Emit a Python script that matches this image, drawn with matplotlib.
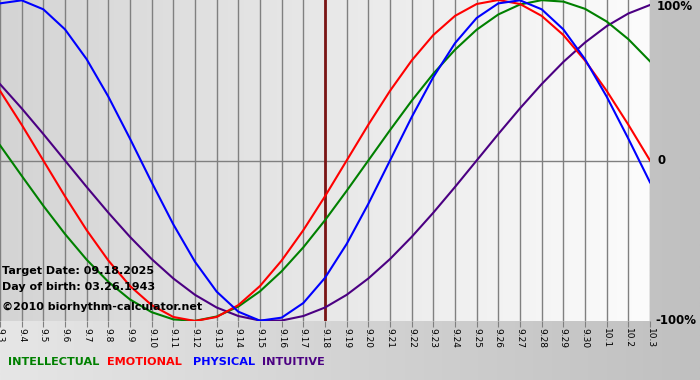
import numpy as np
import matplotlib
matplotlib.use("Agg")
import matplotlib.pyplot as plt
from matplotlib.colors import LinearSegmentedColormap

# day labels 9.3 .. 10.3
days = ['9.3', '9.4', '9.5', '9.6', '9.7', '9.8', '9.9', '9.10', '9.11', '9.12',
        '9.13', '9.14', '9.15', '9.16', '9.17', '9.18', '9.19', '9.20', '9.21',
        '9.22', '9.23', '9.24', '9.25', '9.26', '9.27', '9.28', '9.29', '9.30',
        '10.1', '10.2', '10.3']
target_idx = 15

# values in percent, read per day
physical = [97.9, 99.8, 94.2, 81.7, 63.1, 39.8, 13.6, -13.6, -39.8, -63.1, -81.7,
            -94.2, -99.8, -97.9, -88.8, -73.1, -52.0, -27.0, 0.0, 27.0, 52.0, 73.1,
            88.8, 97.9, 99.8, 94.2, 81.7, 63.1, 39.8, 13.6, -13.6]
emotional = [43.4, 22.3, 0.0, -22.3, -43.4, -62.3, -78.2, -90.1, -97.5, -100.0,
             -97.5, -90.1, -78.2, -62.3, -43.4, -22.3, 0.0, 22.3, 43.4, 62.3, 78.2,
             90.1, 97.5, 100.0, 97.5, 90.1, 78.2, 62.3, 43.4, 22.3, 0.0]
intellectual = [9.5, -9.5, -28.2, -45.8, -61.8, -75.6, -86.6, -94.5, -99.0, -99.9,
                -97.2, -91.0, -81.5, -69.0, -54.1, -37.2, -18.9, 0.0, 18.9, 37.2,
                54.1, 69.0, 81.5, 91.0, 97.2, 99.9, 99.0, 94.5, 86.6, 75.6, 61.8]
intuitive = [47.6, 32.5, 16.5, 0.0, -16.5, -32.5, -47.6, -61.4, -73.5, -83.7, -91.6,
             -96.9, -99.7, -99.7, -96.9, -91.6, -83.7, -73.5, -61.4, -47.6, -32.5,
             -16.5, 0.0, 16.5, 32.5, 47.6, 61.4, 73.5, 83.7, 91.6, 96.9]

c_int = '#008000'
c_emo = '#ff0000'
c_phy = '#0000ff'
c_itu = '#4b0082'

x = np.arange(len(days))

fig = plt.figure(figsize=(7, 3.8), dpi=100)

# outer background gradient
bg = fig.add_axes([0, 0, 1, 1], zorder=-10)
bg.imshow(np.linspace(0, 1, 256).reshape(1, -1), aspect='auto', extent=[0, 1, 0, 1],
          cmap=LinearSegmentedColormap.from_list('o', ['#e6e6e6', '#c0c0c0']))
bg.set_axis_off()

ax = fig.add_axes([0, 1 - 321 / 380, 650 / 700, 321 / 380])
ax.imshow(np.linspace(0, 1, 256).reshape(1, -1), aspect='auto',
          extent=[0, len(days) - 1, -100, 100], zorder=0,
          cmap=LinearSegmentedColormap.from_list('p', ['#d4d4d4', '#fcfcfc']))
ax.set_xlim(0, len(days) - 1)
ax.set_ylim(-100, 100)

for i in x:
    ax.axvline(i, color='#808080', lw=1, zorder=1)
ax.axhline(0, color='#808080', lw=1, zorder=1)
ax.axvline(target_idx, color='#7a1515', lw=2, zorder=1)

ax.plot(x, intuitive, color=c_itu, lw=1.5, zorder=3)
ax.plot(x, intellectual, color=c_int, lw=1.5, zorder=3)
ax.plot(x, emotional, color=c_emo, lw=1.5, zorder=3)
ax.plot(x, physical, color=c_phy, lw=1.5, zorder=3)

for s in ax.spines.values():
    s.set_visible(False)
ax.set_yticks([])
ax.set_xticks(x)
ax.set_xticklabels(days, rotation=-90, fontsize=6.5)
ax.tick_params(axis='x', length=4, color='#808080', pad=1)

ax.text(2 / 650 * 30, -100 + 50 / 321 * 200, 'Target Date: 09.18.2025',
        fontsize=8, fontweight='bold', va='center', zorder=4)
ax.text(2 / 650 * 30, -100 + 34 / 321 * 200, 'Day of birth: 03.26.1943',
        fontsize=8, fontweight='bold', va='center', zorder=4)
ax.text(2 / 650 * 30, -100 + 14 / 321 * 200, '\u00a92010 biorhythm-calculator.net',
        fontsize=8, fontweight='bold', va='center', zorder=4)

fig.text(657 / 700, 1 - 7 / 380, '100%', fontsize=8.5, fontweight='bold', va='center')
fig.text(658 / 700, 1 - 161 / 380, '0', fontsize=8.5, fontweight='bold', va='center')
fig.text(655 / 700, 1 - 321 / 380, '-100%', fontsize=8.5, fontweight='bold', va='center')

legend = [('INTELLECTUAL', c_int, 8), ('EMOTIONAL', c_emo, 107),
          ('PHYSICAL', c_phy, 193), ('INTUITIVE', c_itu, 262)]
for name, col, px in legend:
    fig.text(px / 700, 1 - 362 / 380, name, color=col, fontsize=8.1,
             fontweight='bold', va='center')

fig.savefig('out.png', dpi=100)
